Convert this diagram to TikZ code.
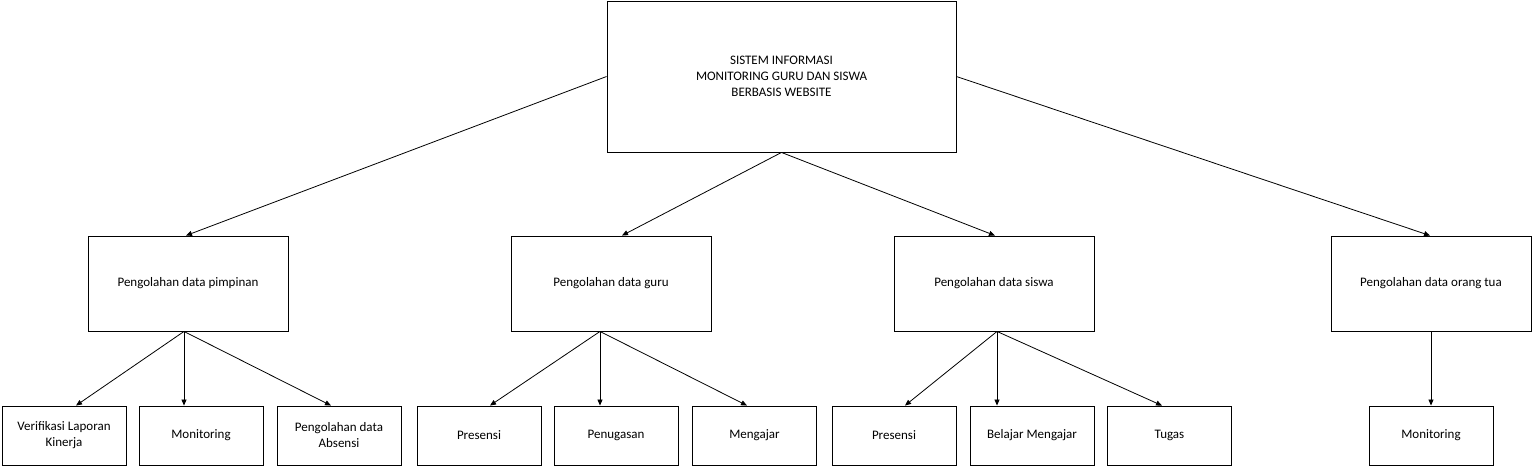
\documentclass[tikz,border=0pt]{standalone}
\usepackage{fontspec}
\setmainfont{Carlito}
\usepackage{tikz}
\usetikzlibrary{arrows.meta}

\begin{document}
\begin{tikzpicture}[x=1pt, y=-1pt,
    box/.style={draw, line width=0.9pt, inner sep=0pt, align=center,
      font=\fontsize{13}{16}\selectfont},
    topbox/.style={box, minimum width=349pt, minimum height=151pt},
    midbox/.style={box, minimum width=200pt, minimum height=95pt},
    leafbox/.style={box, minimum width=124pt, minimum height=59pt},
    link/.style={line width=0.8pt, -{Triangle[length=6pt,width=5pt]}}]
    \useasboundingbox (0,0) rectangle (1532,466);
    \node[topbox] (1) at (781.5,76.5) {SISTEM INFORMASI\\MONITORING GURU DAN SISWA\\BERBASIS WEBSITE};
    \node[midbox] (21) at (188,283.5) {Pengolahan data pimpinan};
    \node[midbox] (22) at (611,283.5) {Pengolahan data guru};
    \node[midbox] (23) at (994,283.5) {Pengolahan data siswa};
    \node[midbox] (24) at (1431,283.5) {Pengolahan data orang tua};
    \node[leafbox] (211) at (64,435.5) {Verifikasi Laporan\\Kinerja};
    \node[leafbox] (212) at (201,435.5) {Monitoring};
    \node[leafbox] (213) at (339,435.5) {Pengolahan data\\Absensi};
    \node[leafbox] (221) at (479,435.5) {Presensi};
    \node[leafbox] (222) at (616,435.5) {Penugasan};
    \node[leafbox] (223) at (754.5,435.5) {Mengajar};
    \node[leafbox] (231) at (894,435.5) {Presensi};
    \node[leafbox] (232) at (1032,435.5) {Belajar Mengajar};
    \node[leafbox] (233) at (1169.5,435.5) {Tugas};
    \node[leafbox] (241) at (1431,435.5) {Monitoring};
    % first level
    \draw[link] (1.west) -- ([xshift=-2pt]21.north);
    \draw[link] (1.south) -- ([xshift=11pt]22.north);
    \draw[link] (1.south) -- ([xshift=1pt]23.north);
    \draw[link] (1.east) -- ([xshift=-1pt]24.north);
    % second level
    \draw[link] ([xshift=-4pt]21.south) -- ([xshift=12pt]211.north);
    \draw[link] ([xshift=-4pt]21.south) -- ([xshift=-17pt]212.north);
    \draw[link] ([xshift=-4pt]21.south) -- ([xshift=-8pt]213.north);
    \draw[link] ([xshift=-11pt]22.south) -- ([xshift=11pt]221.north);
    \draw[link] ([xshift=-11pt]22.south) -- ([xshift=-16pt]222.north);
    \draw[link] ([xshift=-11pt]22.south) -- ([xshift=-7.5pt]223.north);
    \draw[link] ([xshift=3pt]23.south) -- ([xshift=11pt]231.north);
    \draw[link] ([xshift=3pt]23.south) -- ([xshift=-35pt]232.north);
    \draw[link] ([xshift=3pt]23.south) -- ([xshift=-7.5pt]233.north);
    \draw[link] (24.south) -- (241.north);
\end{tikzpicture}
\end{document}
